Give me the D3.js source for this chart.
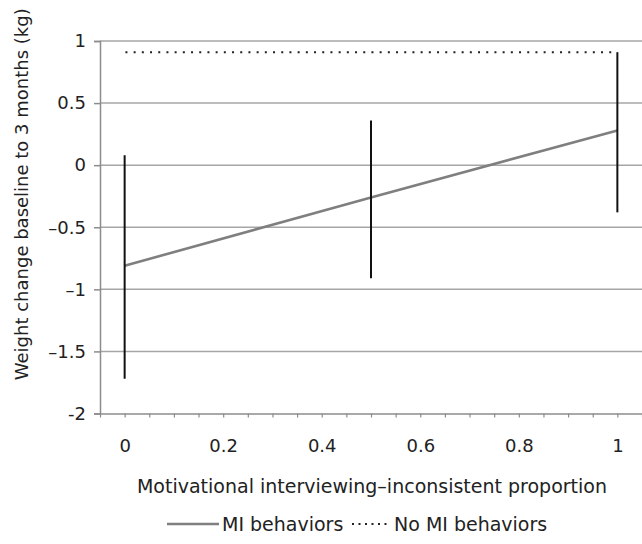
<!DOCTYPE html>
<html>
<head>
<meta charset="utf-8">
<script src="https://cdn.jsdelivr.net/npm/d3@7"></script>
<style>
  body { margin: 0; background: #fff; }
  svg text { font-family: "DejaVu Sans", sans-serif; fill: #222; }
</style>
</head>
<body>
<svg id="chart"></svg>
<script>
// proportion of MI-inconsistent behaviour
const xValues = [0, 0.5, 1];
// MI behaviors: fitted weight change and its interval
const miMeans = [-0.81, -0.26, 0.28];
const ciLow = [-1.72, -0.91, -0.38];
const ciHigh = [0.08, 0.36, 0.91];
// No MI behaviors reference
const noMiX = [0, 1];
const noMiValues = [0.91, 0.91];

const yTicks = [-2, -1.5, -1, -0.5, 0, 0.5, 1];
const yTickLabels = ["-2", "\u20131.5", "\u20131", "\u20130.5", "0", "0.5", "1"];
const xLabelTicks = [0, 0.2, 0.4, 0.6, 0.8, 1];
const xMinorTicks = d3.range(-0.05, 1.0501, 0.05);

const width = 642;
const height = 544;
const margin = { top: 41, right: 0, bottom: 130.5, left: 100 };

const svg = d3.select("#chart").attr("width", width).attr("height", height);

const x = d3.scaleLinear()
  .domain([-0.05, 1.05])
  .range([margin.left, width - margin.right]);

const y = d3.scaleLinear()
  .domain([-2, 1])
  .range([height - margin.bottom, margin.top]);

// horizontal gridlines
svg.append("g")
  .selectAll("line")
  .data(yTicks.filter(d => d > -2))
  .join("line")
  .attr("x1", margin.left)
  .attr("x2", width)
  .attr("y1", d => y(d))
  .attr("y2", d => y(d))
  .attr("stroke", "#a6a6a6")
  .attr("stroke-width", 1.5);

// y axis
const yAxis = svg.append("g")
  .attr("transform", `translate(${margin.left},0)`)
  .call(d3.axisLeft(y).tickValues(yTicks).tickSize(6).tickPadding(8)
    .tickFormat((d, i) => yTickLabels[i]));
yAxis.select(".domain").attr("stroke", "#8c8c8c").attr("stroke-width", 1.5);
yAxis.selectAll(".tick line").attr("stroke", "#8c8c8c").attr("stroke-width", 1.5);
yAxis.selectAll("text").style("font-size", "18px").attr("fill", "#222");

// x axis: minor ticks
const xAxis = svg.append("g")
  .attr("transform", `translate(0,${y(-2)})`)
  .call(d3.axisBottom(x).tickValues(xMinorTicks).tickSize(4).tickSizeOuter(0).tickFormat(""));
xAxis.select(".domain").attr("stroke", "#8c8c8c").attr("stroke-width", 1.5);
xAxis.selectAll(".tick line").attr("stroke", "#8c8c8c").attr("stroke-width", 1.2);

// x axis labels
const xLabels = svg.append("g")
  .attr("transform", `translate(0,${y(-2)})`)
  .call(d3.axisBottom(x).tickValues(xLabelTicks).tickSize(0).tickFormat(d3.format("")));
xLabels.select(".domain").remove();
xLabels.selectAll("text")
  .attr("y", 38)
  .attr("dy", 0)
  .style("font-size", "18px")
  .attr("fill", "#222");

// axis titles
svg.append("text")
  .attr("x", (x(0) + x(1)) / 2 + 1)
  .attr("y", 493)
  .attr("text-anchor", "middle")
  .style("font-size", "19px")
  .text("Motivational interviewing\u2013inconsistent proportion");

svg.append("text")
  .attr("transform", `translate(28,${(y(-2) + y(1)) / 2 - 33}) rotate(-90)`)
  .attr("text-anchor", "middle")
  .style("font-size", "18px")
  .text("Weight change baseline to 3 months (kg)");

// no MI dotted reference
const line = d3.line().x(d => x(d[0])).y(d => y(d[1]));
svg.append("path")
  .datum(d3.zip(noMiX, noMiValues))
  .attr("d", line)
  .attr("fill", "none")
  .attr("stroke", "#222")
  .attr("stroke-width", 2)
  .attr("stroke-dasharray", "2,6.2")
  .attr("stroke-dashoffset", -9);

// MI behaviors line
svg.append("path")
  .datum(d3.zip(xValues, miMeans))
  .attr("d", line)
  .attr("fill", "none")
  .attr("stroke", "#7f7f7f")
  .attr("stroke-width", 2.6);

// error bars
svg.append("g")
  .selectAll("line")
  .data(xValues)
  .join("line")
  .attr("x1", d => x(d))
  .attr("x2", d => x(d))
  .attr("y1", (d, i) => y(ciLow[i]))
  .attr("y2", (d, i) => y(ciHigh[i]))
  .attr("stroke", "#111")
  .attr("stroke-width", 2);

// legend
const legend = svg.append("g").attr("transform", "translate(167,524)");
legend.append("line")
  .attr("x1", 0).attr("x2", 52)
  .attr("stroke", "#7f7f7f").attr("stroke-width", 2.6);
legend.append("text")
  .attr("x", 55).attr("y", 7)
  .style("font-size", "19px")
  .text("MI behaviors");
legend.append("line")
  .attr("x1", 185).attr("x2", 224)
  .attr("stroke", "#222").attr("stroke-width", 2)
  .attr("stroke-dasharray", "2,4.5");
legend.append("text")
  .attr("x", 227).attr("y", 7)
  .style("font-size", "19px")
  .text("No MI behaviors");
</script>
</body>
</html>
